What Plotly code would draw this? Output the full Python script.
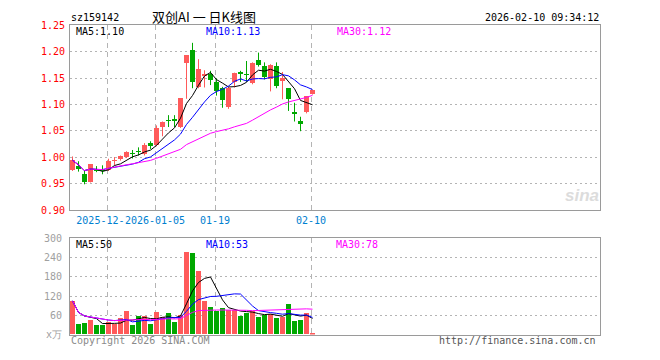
import plotly.graph_objects as go

# ---------------- data ----------------
dates = ["2025-12-12", "2025-12-15", "2025-12-16", "2025-12-17", "2025-12-18", "2025-12-19",
         "2025-12-22", "2025-12-23", "2025-12-24", "2025-12-25", "2025-12-26", "2025-12-29",
         "2025-12-30", "2025-12-31", "2026-01-05", "2026-01-06", "2026-01-07", "2026-01-08",
         "2026-01-09", "2026-01-12", "2026-01-13", "2026-01-14", "2026-01-15", "2026-01-16",
         "2026-01-19", "2026-01-20", "2026-01-21", "2026-01-22", "2026-01-23", "2026-01-26",
         "2026-01-27", "2026-01-28", "2026-01-29", "2026-01-30", "2026-02-02", "2026-02-03",
         "2026-02-04", "2026-02-05", "2026-02-06", "2026-02-09", "2026-02-10"]

open_ = [0.976, 0.983, 0.968, 0.9535, 0.9755, 0.9765, 0.976, 0.993, 0.9957, 1.000,
         1.0073, 1.011, 1.0055, 1.0263, 1.022, 1.0575, 1.0700, 1.0702, 1.0575, 1.178,
         1.202, 1.1336, 1.1544, 1.158, 1.1415, 1.1305, 1.0956, 1.1415, 1.1618, 1.156,
         1.140, 1.1845, 1.1728, 1.1477, 1.1728, 1.1458, 1.1305, 1.0835, 1.068, 1.0846, 1.1201]
high = [1.0018, 0.9927, 0.976, 0.9865, 0.9835, 0.985, 0.9975, 1.0006, 1.0036, 1.0116,
        1.014, 1.019, 1.027, 1.0306, 1.0606, 1.068, 1.080, 1.080, 1.112, 1.1935,
        1.217, 1.186, 1.165, 1.164, 1.1495, 1.1336, 1.134, 1.1605, 1.164, 1.1826,
        1.180, 1.1985, 1.180, 1.1765, 1.180, 1.1618, 1.1305, 1.1035, 1.077, 1.1158, 1.128]
low = [0.9743, 0.973, 0.949, 0.9525, 0.972, 0.968, 0.9743, 0.985, 0.9939, 0.9988,
       0.998, 1.0037, 1.0037, 1.016, 1.021, 1.040, 1.0575, 1.0575, 1.0557, 1.111,
       1.131, 1.131, 1.1324, 1.137, 1.117, 1.094, 1.092, 1.1324, 1.143, 1.1428,
       1.1385, 1.172, 1.1477, 1.125, 1.131, 1.110, 1.088, 1.068, 1.0496, 1.0834, 1.119]
close = [0.9945, 0.977, 0.9535, 0.9865, 0.975, 0.975, 0.9927, 0.994, 1.0024, 1.0098,
         1.0067, 1.0104, 1.022, 1.020, 1.0545, 1.066, 1.0695, 1.0697, 1.112, 1.1935,
         1.1415, 1.167, 1.1569, 1.1458, 1.126, 1.1078, 1.1305, 1.160, 1.157, 1.1555,
         1.178, 1.1752, 1.152, 1.174, 1.1348, 1.1495, 1.109, 1.083, 1.063, 1.1158, 1.1275]

ma5 = [0.9945, 0.9858, 0.9750, 0.9779, 0.9773, 0.9734, 0.9765, 0.9846, 0.9878, 0.9948,
       1.0011, 1.0047, 1.0103, 1.0138, 1.0227, 1.0346, 1.0464, 1.0559, 1.0743, 1.1021,
       1.1172, 1.1367, 1.1542, 1.1609, 1.1474, 1.1407, 1.1334, 1.1340, 1.1363, 1.1422,
       1.1562, 1.1651, 1.1635, 1.1669, 1.1628, 1.1571, 1.1439, 1.1301, 1.1079, 1.1041, 1.0997]
ma10 = [0.9945, 0.9858, 0.9750, 0.9779, 0.9773, 0.9769, 0.9792, 0.9810, 0.9834, 0.9860,
        0.9873, 0.9906, 0.9975, 1.0008, 1.0088, 1.0179, 1.0255, 1.0331, 1.0441, 1.0624,
        1.0759, 1.0916, 1.1051, 1.1176, 1.1248, 1.1290, 1.1351, 1.1441, 1.1486, 1.1448,
        1.1485, 1.1493, 1.1488, 1.1516, 1.1525, 1.1567, 1.1545, 1.1468, 1.1374, 1.1334, 1.1284]
ma30 = [0.9945, 0.9858, 0.9750, 0.9779, 0.9773, 0.9769, 0.9792, 0.9810, 0.9834, 0.9860,
        0.9879, 0.9898, 0.9923, 0.9943, 0.9983, 1.0025, 1.0064, 1.0100, 1.0153, 1.0242,
        1.0298, 1.0361, 1.0413, 1.0457, 1.0489, 1.0511, 1.0541, 1.0579, 1.0613, 1.0644,
        1.0705, 1.0771, 1.0838, 1.0900, 1.0953, 1.1012, 1.1050, 1.1080, 1.1100, 1.1136, 1.1176]

volume = [105, 33, 36, 45, 30, 28, 40, 32, 50, 73, 30, 57, 57, 33, 69, 53, 66, 40, 62, 258,
          253, 198, 103, 84, 74, 81, 77, 77, 57, 66, 73, 54, 61, 65, 51, 54, 96, 42, 45, 66, 2]
vma5 = [105, 69, 58, 54.8, 49.8, 34.4, 35.8, 35, 36, 44.6, 45, 48.4, 53.4, 50, 49.2, 53.8,
        55.6, 52.2, 58, 95.8, 135.8, 162.2, 174.8, 179.2, 142.4, 108, 83.8, 78.6, 73.2, 71.6,
        70, 65.4, 62.2, 63.8, 60.8, 57, 65.4, 61.6, 57.6, 60.6, 50.2]
vma10 = [105, 69, 58, 54.8, 49.8, 46.2, 45.3, 43.6, 44.3, 47.2, 39.7, 42.1, 44.2, 43, 46.9,
         49.4, 52, 52.8, 54, 72.5, 94.8, 108.9, 113.5, 118.6, 119.1, 121.9, 123, 126.7, 126.2,
         107, 89, 74.6, 70.4, 68.5, 66.2, 63.5, 65.4, 61.9, 60.7, 60.7, 53.6]
vma30 = [105, 69, 58, 54.8, 49.8, 46.2, 45.3, 43.6, 44.3, 47.2, 45.6, 46.6, 47.4, 46.4, 47.9,
         48.2, 49.2, 48.7, 49.4, 59.9, 69, 74.9, 76.1, 76.5, 76.4, 76.5, 76.6, 76.6, 75.9, 75.6,
         74.5, 75.2, 76, 76.7, 77.4, 78.3, 80.1, 80.5, 80.3, 80.1, 79.1]

tick_dates = ["2025-12-22", "2026-01-05", "2026-01-19", "2026-02-10"]
tick_labels = ["2025-12-", "2026-01-05", "01-19", "02-10"]
price_ticks = [0.90, 0.95, 1.00, 1.05, 1.10, 1.15, 1.20, 1.25]
vol_ticks = [0, 60, 120, 180, 240, 300]
vol_tick_labels = ["x万", "60", "120", "180", "240", "300"]

# ---------------- styling ----------------
RED = "#ff5a5a"
GREEN = "#00a800"
GRID = "#b4b4b4"
FRAME = "#9a9a9a"
MONO = "DejaVu Sans Mono, Liberation Mono, monospace"
W, H = 660, 360

x = list(range(len(dates)))
up = [c >= o for o, c in zip(open_, close)]
colors = [RED if u else GREEN for u in up]
grid_x = [dates.index(d) - 0.25 for d in tick_dates]
# the first (truncated) label is drawn left-shifted so it ends where the next begins
label_x = [grid_x[0] - 1.1] + grid_x[1:]

fig = go.Figure()

# wicks
for flag, col in ((True, RED), (False, GREEN)):
    wx, wy = [], []
    for i in x:
        if up[i] == flag:
            wx += [i, i, None]
            wy += [low[i], high[i], None]
    fig.add_trace(go.Scatter(x=wx, y=wy, mode="lines", line=dict(color=col, width=1),
                             xaxis="x", yaxis="y", hoverinfo="skip", showlegend=False))

# bodies
fig.add_trace(go.Bar(x=x, base=[min(o, c) for o, c in zip(open_, close)],
                     y=[abs(c - o) for o, c in zip(open_, close)],
                     marker=dict(color=colors, line=dict(width=0)), width=0.8,
                     xaxis="x", yaxis="y", showlegend=False))

# price MAs
for arr, col in ((ma5, "#000000"), (ma10, "#0000ff"), (ma30, "#ff00ff")):
    fig.add_trace(go.Scatter(x=x, y=arr, mode="lines", line=dict(color=col, width=1),
                             xaxis="x", yaxis="y", showlegend=False, hoverinfo="skip"))

# volume bars
fig.add_trace(go.Bar(x=x, y=volume, marker=dict(color=colors, line=dict(width=0)), width=0.85,
                     xaxis="x2", yaxis="y2", showlegend=False))
for arr, col in ((vma5, "#000000"), (vma10, "#0000ff"), (vma30, "#ff00ff")):
    fig.add_trace(go.Scatter(x=x, y=arr, mode="lines", line=dict(color=col, width=1),
                             xaxis="x2", yaxis="y2", showlegend=False, hoverinfo="skip"))

xl, xr = 70, 600
xrange = [-0.4167, -0.4167 + (xr - xl) / 6.0]
xdom = [xl / W, xr / W]

def ydom(top, bottom):
    return [1 - bottom / H, 1 - top / H]

minor_grid = dict(tickmode="array", tickvals=grid_x, showgrid=True, gridcolor=GRID,
                  griddash="5px,4px", gridwidth=1, ticks="")
common_x = dict(range=xrange, domain=xdom, showline=True, mirror=True, linecolor=FRAME,
                linewidth=1, zeroline=False, showgrid=False, minor=minor_grid,
                tickmode="array", tickvals=label_x, ticks="", fixedrange=True)

fig.update_layout(
    width=W, height=H, margin=dict(l=0, r=0, t=0, b=0),
    paper_bgcolor="white", plot_bgcolor="white", barmode="overlay", bargap=0,
    font=dict(family=MONO, size=10, color="#000"),
    xaxis=dict(common_x, anchor="y", ticktext=tick_labels, tickangle=0,
               tickfont=dict(family=MONO, size=10, color="#0080d0"), ticklabelstandoff=1),
    yaxis=dict(domain=ydom(21, 211.7), range=[0.8999, 1.2501], anchor="x",
               showline=True, mirror=True, linecolor=FRAME, linewidth=1, zeroline=False,
               showgrid=True, gridcolor=GRID, griddash="2px,3px", tickmode="array",
               tickvals=price_ticks, ticktext=[f"{v:.2f}" for v in price_ticks], ticks="",
               tickfont=dict(family=MONO, size=10, color="#ff0000"), ticklabelstandoff=2),
    xaxis2=dict(common_x, anchor="y2", showticklabels=False),
    yaxis2=dict(domain=ydom(240.5, 340), range=[0, 300], anchor="x2",
                showline=True, mirror=True, linecolor=FRAME, linewidth=1, zeroline=False,
                showgrid=True, gridcolor=GRID, griddash="2px,3px", tickmode="array",
                tickvals=vol_ticks, ticktext=vol_tick_labels, ticks="",
                tickfont=dict(family=MONO, size=10, color="#a0a0a0"), ticklabelstandoff=5),
)

def ann(text, xpx, ypx, anchor="left", color="#000", size=10, family=MONO, **kw):
    fig.add_annotation(text=text, x=xpx / W, y=1 - ypx / H, xref="paper", yref="paper",
                       xanchor=anchor, yanchor="middle", showarrow=False, borderpad=0,
                       font=dict(family=family, size=size, color=color, **kw))

ann("sz159142", 70, 12.5)
ann("双创AI 一 日K线图", 151, 12, size=13, family="Noto Sans CJK SC, sans-serif")
ann("2026-02-10 09:34:12", 600, 12.5, anchor="right")
ann("MA5:1.10", 75, 27)
ann("MA10:1.13", 205, 27, color="#0000ff")
ann("MA30:1.12", 336, 27, color="#ff00ff")
ann("MA5:50", 75, 247)
ann("MA10:53", 205, 247, color="#0000ff")
ann("MA30:78", 335, 247, color="#ff00ff")
ann("Copyright 2026 SINA.COM", 70, 346, color="#8a8a8a")
ann("http://finance.sina.com.cn", 597, 346, anchor="right", color="#555555")
ann("sina", 582, 197, anchor="center", color="#dcdcdc", size=17,
    family="Liberation Sans, Arial, sans-serif", style="italic", weight="bold")

fig.write_html("out.html")
